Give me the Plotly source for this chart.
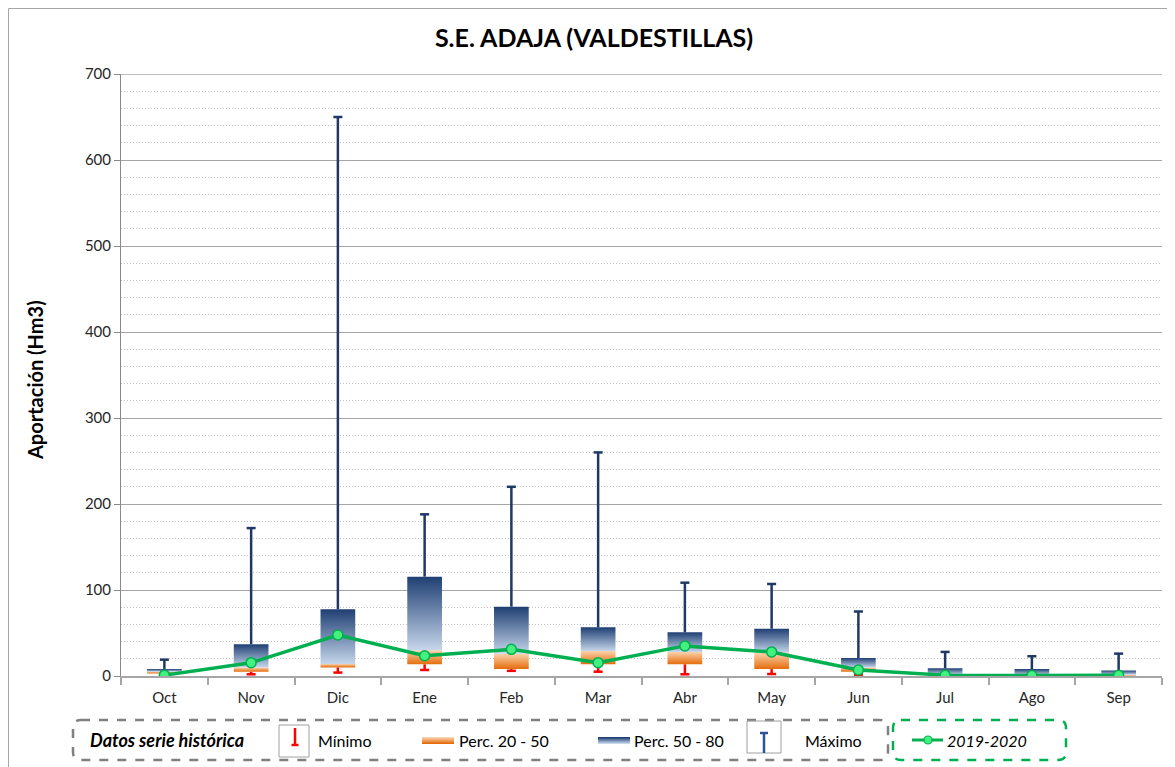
import plotly.graph_objects as go

# ---------------- data ----------------
months = ["Oct", "Nov", "Dic", "Ene", "Feb", "Mar", "Abr", "May", "Jun", "Jul", "Ago", "Sep"]
minimo = [1, 2, 4, 7, 6, 5, 2, 2.3, 1.5, 0, 0, 0]
perc20 = [3, 5, 10, 13.6, 8, 13.6, 13.6, 8, 5, 0.5, 0.3, 0.5]
perc50 = [5, 10, 14, 30, 26, 29, 28, 27, 10, 1.5, 1, 1.5]
perc80 = [8, 37, 77.5, 115.5, 80.6, 56.6, 50.8, 55, 21, 9, 8, 6.5]
maximo = [19, 172, 650, 188, 220, 260, 108.5, 107, 75, 28, 23, 26]
actual = [1, 15.5, 47.7, 23.6, 31, 15.5, 35, 28, 7, 1, 0.5, 1]
y_ticks = [0, 100, 200, 300, 400, 500, 600, 700]

# ---------------- style ----------------
OFF = 8                      # page body margin
W, H = 1175 - OFF, 767 - OFF
L, R, T, B = 121, 1162, 74, 676   # plot area in page pixels
FONT = "Lato"
NAVY = "#1F3864"
RED = "#FF0000"
GREEN = "#00B050"
HW = 0.2     # half box width (category units)
CAP = 0.052  # half cap width

def px(x):
    return (x - L) / (R - L)

def py(y):
    return (B - y) / (B - T)

fig = go.Figure()
xs = list(range(len(months)))

# max whiskers
wx, wy = [], []
for i in xs:
    wx += [i, i, None, i - CAP, i + CAP, None]
    wy += [perc80[i], maximo[i], None, maximo[i], maximo[i], None]
fig.add_trace(go.Scatter(x=wx, y=wy, mode="lines", line=dict(color=NAVY, width=2.5),
                         hoverinfo="skip", showlegend=False))
# min whiskers
mx, my = [], []
for i in xs:
    mx += [i, i, None, i - CAP, i + CAP, None]
    my += [perc20[i], minimo[i], None, minimo[i], minimo[i], None]
fig.add_trace(go.Scatter(x=mx, y=my, mode="lines", line=dict(color=RED, width=2.5),
                         hoverinfo="skip", showlegend=False))

# boxes with vertical gradients
for i in xs:
    fig.add_trace(go.Scatter(
        x=[i - HW, i + HW, i + HW, i - HW, i - HW],
        y=[perc20[i], perc20[i], perc50[i], perc50[i], perc20[i]],
        mode="lines", fill="toself", line=dict(width=0),
        fillgradient=dict(type="vertical", colorscale=[[0, "#E46C0A"], [1, "#FBD3AE"]],
                          start=perc20[i], stop=perc50[i]),
        hoverinfo="skip", showlegend=False))
    fig.add_trace(go.Scatter(
        x=[i - HW, i + HW, i + HW, i - HW, i - HW],
        y=[perc50[i], perc50[i], perc80[i], perc80[i], perc50[i]],
        mode="lines", fill="toself", line=dict(width=0),
        fillgradient=dict(type="vertical", colorscale=[[0, "#C6D6EB"], [1, "#1F3F73"]],
                          start=perc50[i], stop=perc80[i]),
        hoverinfo="skip", showlegend=False))

# 2019-2020 line
fig.add_trace(go.Scatter(x=xs, y=actual, mode="lines+markers",
                         line=dict(color=GREEN, width=3.5),
                         marker=dict(size=10, color="#44F07F", line=dict(color=GREEN, width=1.5)),
                         name="2019-2020", showlegend=False))

shapes = []
annotations = []

# outer border (top & left)
shapes.append(dict(type="line", xref="paper", yref="paper", x0=px(8.5), x1=px(1175), y0=py(8.5), y1=py(8.5),
                   line=dict(color="#A6A6A6", width=1)))
shapes.append(dict(type="line", xref="paper", yref="paper", x0=px(8.5), x1=px(8.5), y0=py(8.5), y1=py(767),
                   line=dict(color="#A6A6A6", width=1)))
# top gridline at 700
shapes.append(dict(type="line", xref="paper", yref="y", x0=0, x1=1, y0=700, y1=700,
                   line=dict(color="#A6A6A6", width=1.3)))

def rounded_rect(x0, y0, x1, y1, r, color):
    a, b, c, d = px(x0), px(x1), py(y0), py(y1)
    rx = r / (R - L)
    ry = r / (B - T)
    path = (f"M{a+rx},{c} L{b-rx},{c} Q{b},{c} {b},{c-ry} L{b},{d+ry} Q{b},{d} {b-rx},{d} "
            f"L{a+rx},{d} Q{a},{d} {a},{d+ry} L{a},{c-ry} Q{a},{c} {a+rx},{c} Z")
    return dict(type="path", xref="paper", yref="paper", path=path,
                line=dict(color=color, width=2.5, dash="dash"))

shapes.append(rounded_rect(73, 720, 888, 760, 8, "#808080"))
shapes.append(rounded_rect(893, 720, 1066, 760, 8, GREEN))

def rect(x0, y0, x1, y1, fill=None, line=None, kind="rect"):
    d = dict(type=kind, xref="paper", yref="paper", x0=px(x0), x1=px(x1), y0=py(y0), y1=py(y1))
    d["fillcolor"] = fill if fill else "rgba(0,0,0,0)"
    d["line"] = line if line else dict(width=0)
    return d

def seg(x0, y0, x1, y1, color, width):
    return dict(type="line", xref="paper", yref="paper", x0=px(x0), x1=px(x1), y0=py(y0), y1=py(y1),
                line=dict(color=color, width=width))

def hexmix(c1, c2, t):
    a = [int(c1[k:k + 2], 16) for k in (1, 3, 5)]
    b = [int(c2[k:k + 2], 16) for k in (1, 3, 5)]
    return "#" + "".join(f"{round(a[j] + (b[j] - a[j]) * t):02x}" for j in range(3))

# Minimo icon
shapes.append(rect(279, 725, 309, 757, line=dict(color="#A0A0A0", width=1)))
shapes.append(seg(295, 728, 295, 745, RED, 2.5))
shapes.append(seg(291.5, 745, 298.5, 745, RED, 2.5))
# orange swatch gradient
n = 7
for k in range(n):
    shapes.append(rect(422, 737 + k, 454, 738 + k, fill=hexmix("#FBD3AE", "#E46C0A", k / (n - 1))))
# blue swatch gradient
for k in range(n):
    shapes.append(rect(598, 737 + k, 630, 738 + k, fill=hexmix("#1F3F73", "#C6D6EB", k / (n - 1))))
# Maximo icon
shapes.append(rect(747, 721, 781, 753, line=dict(color="#A0A0A0", width=1)))
shapes.append(seg(764, 733, 764, 753, "#2E5597", 2.5))
shapes.append(seg(760, 733, 768, 733, "#2E5597", 2.5))
# green legend line + marker
shapes.append(seg(912, 740, 943, 740, GREEN, 3))
shapes.append(rect(924, 736, 932, 744, fill="#44F07F", line=dict(color=GREEN, width=1.2), kind="circle"))

leg_font = dict(family=FONT, size=16, color="#000000")
annotations += [
    dict(text="<b><i>Datos serie histórica</i></b>", x=px(88), y=py(740), xref="paper", yref="paper",
         xanchor="left", yanchor="middle", showarrow=False, font=dict(family=FONT, size=18, color="#000000")),
    dict(text="Mínimo", x=px(316), y=py(740), xref="paper", yref="paper",
         xanchor="left", yanchor="middle", showarrow=False, font=leg_font),
    dict(text="Perc. 20 - 50", x=px(457), y=py(740), xref="paper", yref="paper",
         xanchor="left", yanchor="middle", showarrow=False, font=leg_font),
    dict(text="Perc. 50 - 80", x=px(632), y=py(740), xref="paper", yref="paper",
         xanchor="left", yanchor="middle", showarrow=False, font=leg_font),
    dict(text="Máximo", x=px(803), y=py(740), xref="paper", yref="paper",
         xanchor="left", yanchor="middle", showarrow=False, font=leg_font),
    dict(text="<i>2019-2020</i>", x=px(945), y=py(740), xref="paper", yref="paper",
         xanchor="left", yanchor="middle", showarrow=False, font=leg_font),
    dict(text="<b>Aportación (Hm3)</b>", x=px(35), y=py(380), xref="paper", yref="paper",
         xanchor="center", yanchor="middle", textangle=-90, showarrow=False,
         font=dict(family=FONT, size=20, color="#000000")),
]

fig.update_layout(
    width=W, height=H,
    margin=dict(l=L - OFF, r=W - (R - OFF), t=T - OFF, b=H - (B - OFF), pad=0),
    paper_bgcolor="white", plot_bgcolor="white",
    showlegend=False,
    title=dict(text="<b>S.E. ADAJA (VALDESTILLAS)</b>", x=(594 - OFF) / W, xref="container", xanchor="center",
               y=1 - (38 - OFF) / H, yref="container", yanchor="middle",
               font=dict(family=FONT, size=25, color="#000000")),
    xaxis=dict(range=[-0.5, len(months) - 0.5], tickmode="array", tickvals=xs, ticktext=months,
               ticks="", showgrid=False, zeroline=False, showline=True, linecolor="#A6A6A6", linewidth=1.5,
               tickfont=dict(family=FONT, size=15, color="#262626"), ticklabelstandoff=7,
               minor=dict(tick0=-0.5, dtick=1, ticks="outside", ticklen=7, tickcolor="#A6A6A6",
                          tickwidth=1.5, showgrid=False)),
    yaxis=dict(range=[0, 700], tickmode="array", tickvals=y_ticks, ticks="outside", ticklen=6,
               tickcolor="#888888", showline=True, linecolor="#888888", linewidth=1,
               showgrid=True, gridcolor="#A6A6A6", gridwidth=1, zeroline=False,
               tickfont=dict(family=FONT, size=15, color="#262626"),
               minor=dict(dtick=20, showgrid=True, gridcolor="#C4C4C4", griddash="1px,2px", gridwidth=1,
                          ticks="")),
    shapes=shapes,
    annotations=annotations,
)

fig.write_html("out.html")
